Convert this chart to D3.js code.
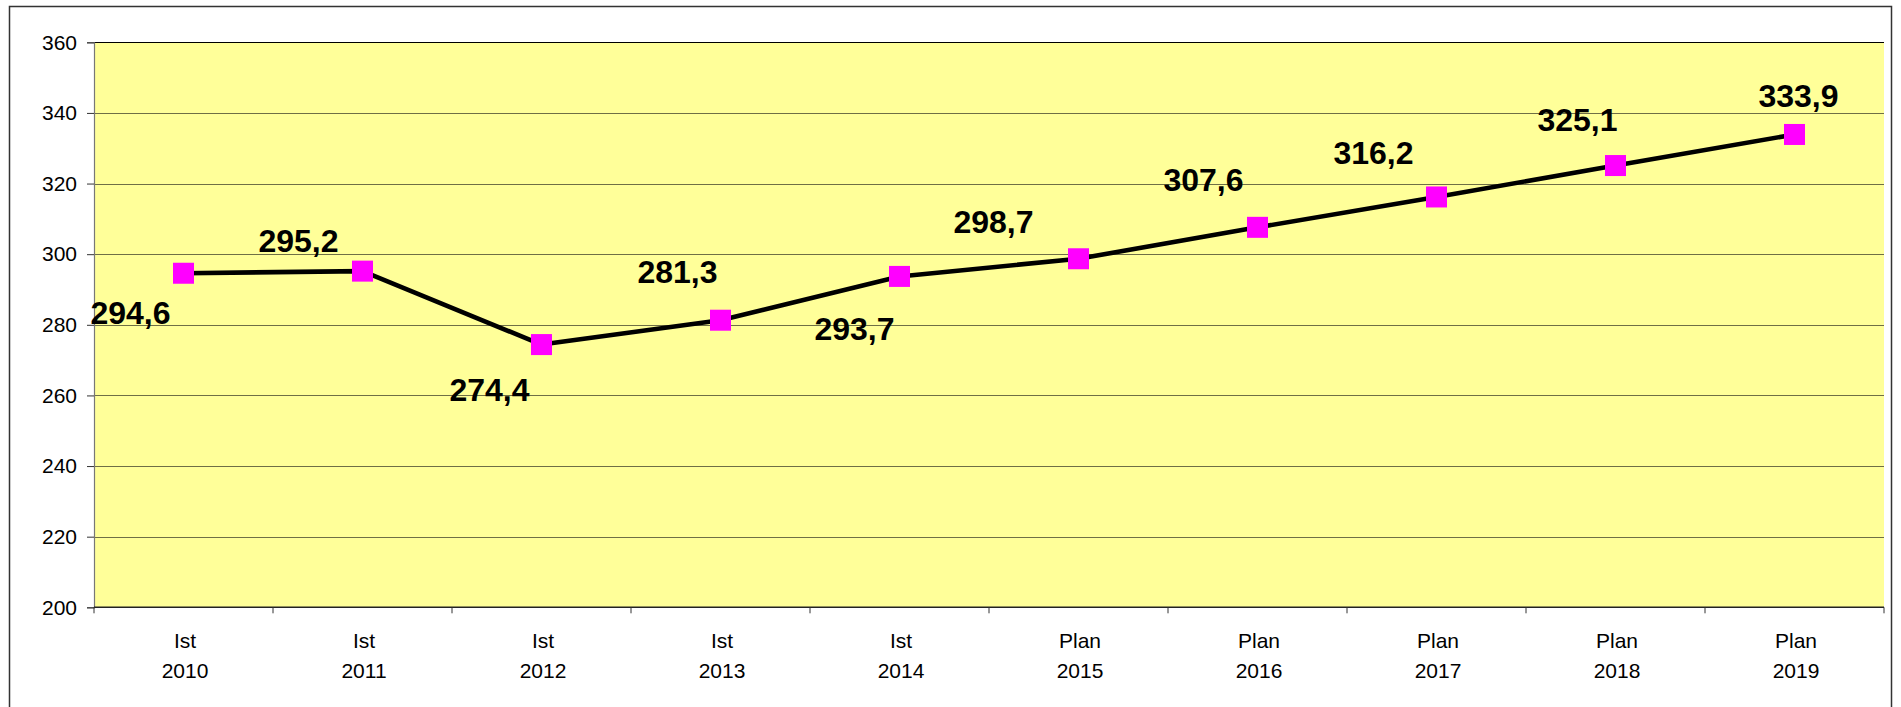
<!DOCTYPE html>
<html>
<head>
<meta charset="utf-8">
<script src="https://cdn.jsdelivr.net/npm/d3@7"></script>
<style>
  body { margin: 0; background: #fff; }
  text { font-family: "Liberation Sans", Arial, sans-serif; }
</style>
</head>
<body>
<div id="chart"></div>
<script>
// chart data
const kinds = ["Ist", "Ist", "Ist", "Ist", "Ist", "Plan", "Plan", "Plan", "Plan", "Plan"];
const years = ["2010", "2011", "2012", "2013", "2014", "2015", "2016", "2017", "2018", "2019"];
const values = [294.6, 295.2, 274.4, 281.3, 293.7, 298.7, 307.6, 316.2, 325.1, 333.9];
const yTicks = [200, 220, 240, 260, 280, 300, 320, 340, 360];

const width = 1901, height = 707;
const plot = { left: 94, right: 1884, top: 42.3, bottom: 607.3 };

// where each data label sits relative to its point (as Excel placed them)
const labelShift = [[-53, 51], [-64, -19], [-52, 56], [-43, -37], [-45, 64],
                    [-85, -26], [-54, -36], [-63, -33], [-38, -35], [4, -27]];

const data = years.map((yr, i) => ({ year: yr, kind: kinds[i], value: values[i] }));

const svg = d3.select("#chart")
  .append("svg")
  .attr("width", width)
  .attr("height", height);

// outer chart frame
svg.append("rect")
  .attr("x", 9.5).attr("y", 6.5)
  .attr("width", 1882).attr("height", 720)
  .attr("fill", "#fff")
  .attr("stroke", "#333")
  .attr("stroke-width", 1.5);

const x = d3.scaleBand()
  .domain(years)
  .range([plot.left, plot.right]);

const y = d3.scaleLinear()
  .domain([200, 360])
  .range([plot.bottom, plot.top]);

const cx = (d) => x(d.year) + x.bandwidth() / 2;

// plot background
svg.append("rect")
  .attr("x", plot.left).attr("y", plot.top)
  .attr("width", plot.right - plot.left)
  .attr("height", plot.bottom - plot.top)
  .attr("fill", "#ffff99");

// gridlines
svg.append("g")
  .selectAll("line")
  .data(yTicks.filter((t) => t > 200))
  .enter()
  .append("line")
  .attr("x1", plot.left).attr("x2", plot.right)
  .attr("y1", (d) => Math.round(y(d)) + 0.5)
  .attr("y2", (d) => Math.round(y(d)) + 0.5)
  .attr("stroke", (d) => d === 360 ? "#000" : "#6f6f45")
  .attr("stroke-width", 1.2);

// y axis
svg.append("g")
  .attr("transform", `translate(${plot.left},0)`)
  .call(d3.axisLeft(y).tickValues(yTicks).tickSize(7).tickPadding(10))
  .call((g) => g.select(".domain").attr("stroke", "#777").attr("stroke-width", 1.2))
  .call((g) => g.selectAll(".tick line").attr("stroke", "#333"))
  .call((g) => g.selectAll("text")
    .attr("font-size", "21px")
    .attr("fill", "#000")
    .style("font-family", "'Liberation Sans', Arial, sans-serif"));

// x axis: ticks at category boundaries
const xAxis = svg.append("g")
  .attr("transform", `translate(0,${plot.bottom})`);

xAxis.append("line")
  .attr("x1", plot.left).attr("x2", plot.right)
  .attr("stroke", "#222").attr("stroke-width", 1.5);

xAxis.selectAll(".bound")
  .data(d3.range(years.length + 1))
  .enter()
  .append("line")
  .attr("class", "bound")
  .attr("x1", (i) => plot.left + i * x.bandwidth())
  .attr("x2", (i) => plot.left + i * x.bandwidth())
  .attr("y1", 0).attr("y2", 6)
  .attr("stroke", "#333");

const xLabels = xAxis.selectAll(".xlab")
  .data(data)
  .enter()
  .append("text")
  .attr("class", "xlab")
  .attr("text-anchor", "middle")
  .attr("font-size", "21px")
  .attr("fill", "#000");

xLabels.append("tspan")
  .attr("x", (d) => cx(d) + 1.5)
  .attr("y", 41)
  .text((d) => d.kind);

xLabels.append("tspan")
  .attr("x", (d) => cx(d) + 1.5)
  .attr("y", 71)
  .text((d) => d.year);

// line
const line = d3.line()
  .x(cx)
  .y((d) => y(d.value));

svg.append("path")
  .datum(data)
  .attr("d", line)
  .attr("fill", "none")
  .attr("stroke", "#000")
  .attr("stroke-width", 4.6)
  .attr("stroke-linejoin", "round");

// markers
const size = 21;
svg.selectAll(".marker")
  .data(data)
  .enter()
  .append("rect")
  .attr("class", "marker")
  .attr("x", (d) => cx(d) - size / 2)
  .attr("y", (d) => y(d.value) - size / 2)
  .attr("width", size)
  .attr("height", size)
  .attr("fill", "#ff00ff");

// data labels
svg.selectAll(".dlab")
  .data(data)
  .enter()
  .append("text")
  .attr("class", "dlab")
  .attr("x", (d, i) => cx(d) + labelShift[i][0])
  .attr("y", (d, i) => y(d.value) + labelShift[i][1])
  .attr("text-anchor", "middle")
  .attr("font-size", "32px")
  .attr("font-weight", "bold")
  .attr("fill", "#000")
  .text((d) => d3.format(".1f")(d.value).replace(".", ","));
</script>
</body>
</html>
